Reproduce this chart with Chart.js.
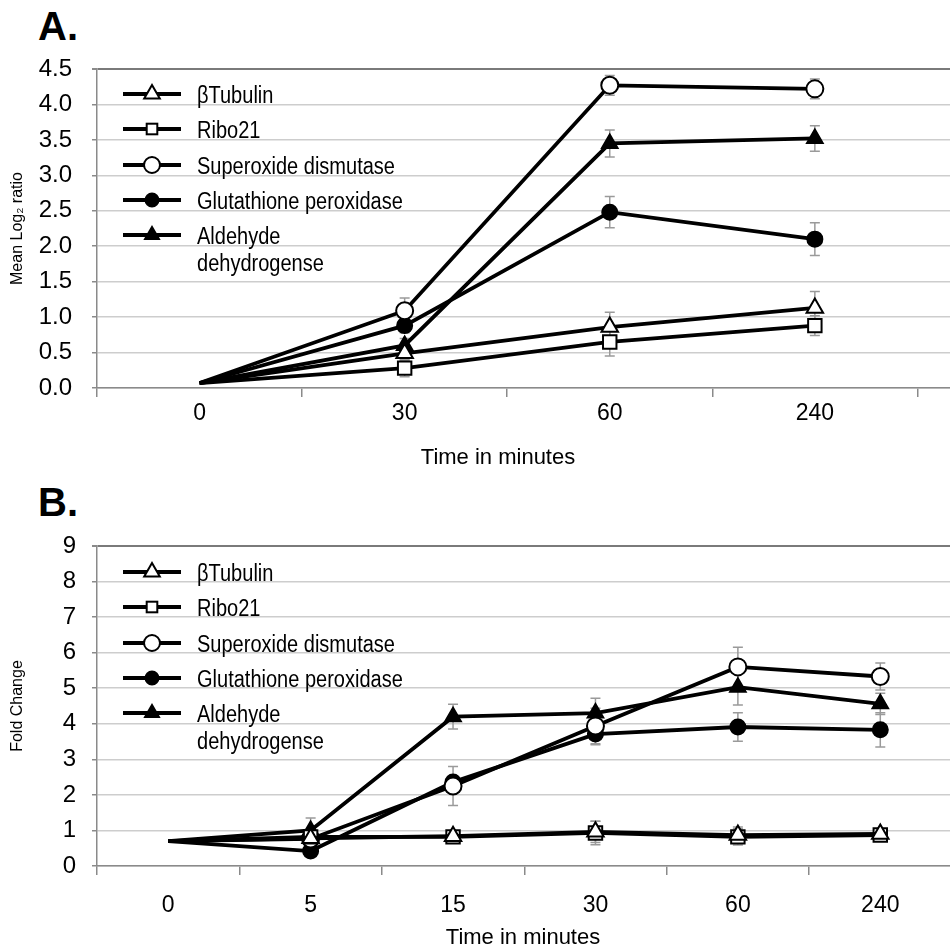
<!DOCTYPE html>
<html>
<head>
<meta charset="utf-8">
<script src="https://cdn.jsdelivr.net/npm/chart.js@4.4.0/dist/chart.umd.min.js"></script>
<style>
    html, body { margin: 0; padding: 0; background: #fff; width: 950px; height: 950px; overflow: hidden; }
    #wrap { position: relative; width: 950px; height: 950px; overflow: hidden; font-family: "Liberation Sans", Arial, sans-serif; color: #000; }
    .etiqueta-panel { position: absolute; left: 38px; font-size: 40px; font-weight: bold; line-height: 40px; }
    .titulo-x { position: absolute; width: 300px; margin-left: -150px; text-align: center; font-size: 22px; line-height: 26px; }
    canvas { position: absolute; left: 0; }
    .fila { position: absolute; left: 123px; height: 24px; }
    .fila svg { position: absolute; left: 0; top: 0; }
    .fila span { position: absolute; left: 74px; top: 0px; font-size: 23px; line-height: 27px; white-space: nowrap; transform: scaleX(0.87); transform-origin: 0 0; }
</style>
</head>
<body>
<div id="wrap">
    <div class="etiqueta-panel" style="top:6px">A.</div>
    <canvas id="graficaA" width="1134" height="470" style="top:0"></canvas>
    <div class="titulo-x" style="left:498px; top:444px">Time in minutes</div>
    <div class="etiqueta-panel" style="top:482px">B.</div>
    <canvas id="graficaB" width="963" height="480" style="top:470px"></canvas>
    <div class="titulo-x" style="left:523px; top:924px">Time in minutes</div>
</div>
<script>
// --- DATOS ---
const nombresSeries = ['βTubulin', 'Ribo21', 'Superoxide dismutase', 'Glutathione peroxidase', 'Aldehyde\ndehydrogense'];

// Panel A: Mean Log2 ratio
const etiquetasA = ['0', '30', '60', '240', ''];
const tubulinaA   = [0.07, 0.49, 0.86, 1.13];
const ribo21A     = [0.07, 0.28, 0.65, 0.88];
const sodA        = [0.07, 1.09, 4.27, 4.22];
const gpxA        = [0.07, 0.88, 2.48, 2.10];
const aldhA       = [0.07, 0.60, 3.45, 3.52];
const errTubulinaA = [0, 0.10, 0.21, 0.23];
const errRibo21A   = [0, 0.12, 0.20, 0.14];
const errSodA      = [0, 0.18, 0.14, 0.14];
const errGpxA      = [0, 0.10, 0.22, 0.23];
const errAldhA     = [0, 0.10, 0.19, 0.18];

// Panel B: Fold Change
const etiquetasB = ['0', '5', '15', '30', '60', '240'];
const tubulinaB   = [0.70, 0.78, 0.84, 0.96, 0.87, 0.90];
const ribo21B     = [0.70, 0.82, 0.82, 0.93, 0.82, 0.87];
const sodB        = [0.70, 0.76, 2.25, 3.94, 5.60, 5.33];
const gpxB        = [0.70, 0.42, 2.36, 3.71, 3.91, 3.83];
const aldhB       = [0.70, 1.00, 4.20, 4.30, 5.03, 4.56];
const errTubulinaB = [0, 0.10, 0.10, 0.30, 0.23, 0.10];
const errRibo21B   = [0, 0.10, 0.10, 0.33, 0.23, 0.15];
const errSodB      = [0, 0.10, 0.55, 0.50, 0.55, 0.38];
const errGpxB      = [0, 0.10, 0.10, 0.30, 0.40, 0.48];
const errAldhB     = [0, 0.35, 0.35, 0.42, 0.50, 0.30];

// estilos de marcador por serie (mismo orden que nombresSeries)
const marcadores = [
    { pointStyle: 'triangle', radio: 9.5, radioLeyenda: 9,   pointBackgroundColor: '#fff' },
    { pointStyle: 'rect',     radio: 9.5, radioLeyenda: 7.5, pointBackgroundColor: '#fff' },
    { pointStyle: 'circle',   radio: 8.5, radioLeyenda: 8,   pointBackgroundColor: '#fff' },
    { pointStyle: 'circle',   radio: 7.5, radioLeyenda: 6.5, pointBackgroundColor: '#000' },
    { pointStyle: 'triangle', radio: 9,   radioLeyenda: 8,   pointBackgroundColor: '#000' }
];

// Barras de error dibujadas con las escalas de Chart.js
const barrasError = {
    id: 'barrasError',
    beforeDatasetsDraw(chart) {
        const ctx = chart.ctx;
        const ys = chart.scales.y;
        ctx.save();
        ctx.strokeStyle = '#9a9a9a';
        ctx.lineWidth = 1.5;
        chart.data.datasets.forEach((ds, i) => {
            const meta = chart.getDatasetMeta(i);
            ds.errores.forEach((e, j) => {
                if (!e) return;
                const x = meta.data[j].x;
                const yArr = ys.getPixelForValue(ds.data[j] + e);
                const yAba = ys.getPixelForValue(ds.data[j] - e);
                ctx.beginPath();
                ctx.moveTo(x, yArr); ctx.lineTo(x, yAba);
                ctx.moveTo(x - 5, yArr); ctx.lineTo(x + 5, yArr);
                ctx.moveTo(x - 5, yAba); ctx.lineTo(x + 5, yAba);
                ctx.stroke();
            });
        });
        ctx.restore();
    }
};

function crearDatasets(valores, errores) {
    return valores.map((v, i) => {
        const m = marcadores[i];
        return {
            label: nombresSeries[i],
            data: v,
            errores: errores[i],
            borderColor: '#000',
            borderWidth: 3.8,
            pointStyle: m.pointStyle,
            // sin marcador en el tiempo 0
            pointRadius: c => c.dataIndex === 0 ? 0 : m.radio,
            pointBorderWidth: c => c.dataIndex === 0 ? 0 : 2,
            pointBackgroundColor: m.pointBackgroundColor,
            pointBorderColor: '#000',
            tension: 0,
            fill: false
        };
    });
}

function crearGrafica(id, etiquetas, datasets, cfg) {
    const fuente = { family: 'Liberation Sans, Arial, sans-serif' };
    return new Chart(document.getElementById(id), {
        type: 'line',
        data: { labels: etiquetas, datasets: datasets },
        plugins: [barrasError],
        options: {
            responsive: false,
            animation: false,
            layout: { padding: { top: cfg.arriba, left: 0, right: 0, bottom: 0 } },
            plugins: { legend: { display: false }, tooltip: { enabled: false } },
            scales: {
                x: {
                    offset: true,
                    grid: { offset: true, drawOnChartArea: false, tickLength: 9, color: '#8a8a8a', lineWidth: 1.5 },
                    border: { color: '#8a8a8a', width: 1.5 },
                    ticks: { color: '#000', font: Object.assign({ size: 23 }, fuente), padding: cfg.padX, maxRotation: 0 },
                    afterFit: s => { s.height = cfg.altoX; }
                },
                y: {
                    min: 0, max: cfg.max,
                    grid: {
                        color: c => c.tick && c.tick.value === cfg.max ? '#7a7a7a' : '#cdcdcd',
                        lineWidth: c => c.tick && c.tick.value === cfg.max ? 2 : 1.5,
                        tickColor: '#8a8a8a',
                        tickLength: 5
                    },
                    border: { color: '#8a8a8a', width: 1.5 },
                    ticks: {
                        stepSize: cfg.paso,
                        color: '#000',
                        padding: cfg.padY,
                        font: Object.assign({ size: 24 }, fuente),
                        callback: v => cfg.paso < 1 ? v.toFixed(1) : v
                    },
                    title: { display: true, text: cfg.tituloY, color: '#000', font: Object.assign({ size: 16 }, fuente), padding: { top: 8, bottom: 0 } },
                    afterFit: s => { s.width = 97; }
                }
            }
        }
    });
}

crearGrafica('graficaA', etiquetasA,
    crearDatasets([tubulinaA, ribo21A, sodA, gpxA, aldhA], [errTubulinaA, errRibo21A, errSodA, errGpxA, errAldhA]),
    { arriba: 69, altoX: 82, padX: 3, max: 4.5, paso: 0.5, padY: 20, tituloY: 'Mean Log₂ ratio' });

crearGrafica('graficaB', etiquetasB,
    crearDatasets([tubulinaB, ribo21B, sodB, gpxB, aldhB], [errTubulinaB, errRibo21B, errSodB, errGpxB, errAldhB]),
    { arriba: 76, altoX: 84, padX: 17, max: 9, paso: 1, padY: 16, tituloY: 'Fold Change' });

// Leyenda en HTML (muestra linea + marcador)
function simbolo(i) {
    const m = marcadores[i];
    const r = m.radioLeyenda;
    const relleno = m.pointBackgroundColor;
    let forma = '';
    if (m.pointStyle === 'circle') {
        forma = `<circle cx="29" cy="12" r="${r}" fill="${relleno}" stroke="#000" stroke-width="2"/>`;
    } else if (m.pointStyle === 'rect') {
        const s = r * Math.SQRT1_2;
        forma = `<rect x="${29 - s}" y="${12 - s}" width="${2 * s}" height="${2 * s}" fill="${relleno}" stroke="#000" stroke-width="2"/>`;
    } else {
        const p = [0, 1, 2].map(k => {
            const a = k * 2 * Math.PI / 3;
            return `${29 + Math.sin(a) * r},${12 - Math.cos(a) * r}`;
        }).join(' ');
        forma = `<polygon points="${p}" fill="${relleno}" stroke="#000" stroke-width="2"/>`;
    }
    return `<svg width="58" height="24"><line x1="0" y1="12" x2="58" y2="12" stroke="#000" stroke-width="3.8"/>${forma}</svg>`;
}

function crearLeyenda(centroInicial) {
    const wrap = document.getElementById('wrap');
    nombresSeries.forEach((nombre, i) => {
        const fila = document.createElement('div');
        fila.className = 'fila';
        fila.style.top = (centroInicial + i * 35.3 - 12) + 'px';
        fila.innerHTML = simbolo(i) + `<span>${nombre.replace('\n', '<br>')}</span>`;
        wrap.appendChild(fila);
    });
}
crearLeyenda(94);
crearLeyenda(572);
</script>
</body>
</html>
